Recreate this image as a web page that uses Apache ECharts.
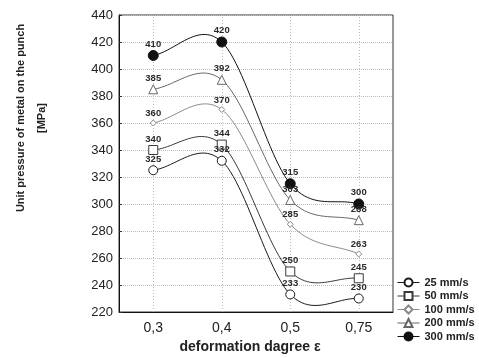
<!DOCTYPE html>
<html>
<head>
<meta charset="utf-8">
<script src="https://cdn.jsdelivr.net/npm/echarts@6/dist/echarts.min.js"></script>
<style>
  html, body { margin: 0; padding: 0; background: #fff; }
  #chart { width: 479px; height: 358px; }
</style>
</head>
<body>
<div id="chart"></div>
<script>
// deformation degree categories
var categories = ['0,3', '0,4', '0,5', '0,75']
var yTicks = [220, 440, 20]   // min, max, step

var names = ['25 mm/s', '50 mm/s', '100 mm/s', '200 mm/s', '300 mm/s']
var v25 = [325, 332, 233, 230]
var v50 = [340, 344, 250, 245]
var v100 = [360, 370, 285, 263]
var v200 = [385, 392, 303, 288]
var v300 = [410, 420, 315, 300]
var allValues = [v25, v50, v100, v200, v300]

var lineColors = ['#1a1a1a', '#3a3a3a', '#8a8a8a', '#666666', '#111111']
var symbols = ['circle', 'rect', 'diamond', 'triangle', 'circle']
var symbolSizes = [9, 9, 6, 9, 10]
var fills = ['#fff', '#fff', '#fff', '#fff', '#111']

var font = '"Liberation Sans", Arial, sans-serif'

// cardinal (catmull-rom) spline through the points, like the original plot
var tangent = (vals, k) => {
    var n = vals.length
    if (k === 0) return vals[1] - vals[0]
    if (k === n - 1) return vals[n - 1] - vals[n - 2]
    return (vals[k + 1] - vals[k - 1]) / 2
}

var makeCurve = (vals, color) => ({
    type: 'custom',
    silent: true,
    z: 2,
    data: vals.map((v, i) => [i, v]),
    encode: { x: 0, y: 1 },
    renderItem: (params, api) => {
        var i = params.dataIndex
        if (i >= vals.length - 1) return
        var p0 = vals[i], p1 = vals[i + 1]
        var m0 = tangent(vals, i), m1 = tangent(vals, i + 1)
        var pts = []
        for (var s = 0; s <= 24; s++) {
            var t = s / 24
            var t2 = t * t, t3 = t2 * t
            var y = (2 * t3 - 3 * t2 + 1) * p0 + (t3 - 2 * t2 + t) * m0 +
                    (-2 * t3 + 3 * t2) * p1 + (t3 - t2) * m1
            pts.push(api.coord([i + t, y]))
        }
        return {
            type: 'polyline',
            shape: { points: pts },
            style: { stroke: color, lineWidth: 1, fill: 'none' }
        }
    }
})

var markerSeries = names.map((name, k) => ({
    name: name,
    type: 'line',
    z: 3,
    data: allValues[k].map((v, i) => [i, v]),
    symbol: symbols[k],
    symbolSize: symbolSizes[k],
    showSymbol: true,
    lineStyle: { opacity: 0 },
    itemStyle: { color: fills[k], borderColor: lineColors[k], borderWidth: 1, opacity: 1 },
    label: {
        show: true,
        position: 'top',
        distance: 1,
        formatter: (p) => p.value[1],
        fontFamily: font,
        fontWeight: 'bold',
        fontSize: 9.5,
        color: '#2a2a2a'
    },
    emphasis: { disabled: true }
}))

var curveSeries = names.map((name, k) => makeCurve(allValues[k], lineColors[k]))

// vertical dotted grid lines at each category
var gridSeries = {
    type: 'custom',
    silent: true,
    z: 1,
    data: categories.map((c, i) => [i, yTicks[0]]),
    encode: { x: 0, y: 1 },
    renderItem: (params, api) => {
        var a = api.coord([api.value(0), yTicks[0]])
        var b = api.coord([api.value(0), yTicks[1]])
        var x = Math.round(a[0]) + 0.5
        return {
            type: 'line',
            shape: { x1: x, y1: a[1], x2: x, y2: b[1] },
            style: { stroke: '#bdbdbd', lineWidth: 1, lineDash: [1, 2] }
        }
    }
}

var chart = echarts.init(document.getElementById('chart'))
chart.setOption({
    animation: false,
    backgroundColor: '#fff',
    grid: {
        left: 119, right: 86, top: 15, bottom: 46,
        show: true, borderColor: '#333', borderWidth: 1
    },
    xAxis: {
        type: 'value',
        min: -0.5,
        max: 3.5,
        interval: 0.5,
        axisLine: { show: true, onZero: false, lineStyle: { color: '#111' } },
        axisTick: { show: false },
        splitLine: { show: false },
        axisLabel: {
            margin: 9,
            fontFamily: font,
            fontSize: 14,
            color: '#222',
            formatter: (v) => (Number.isInteger(v) && v >= 0 && v < categories.length) ? categories[v] : ''
        }
    },
    yAxis: {
        type: 'value',
        min: yTicks[0],
        max: yTicks[1],
        interval: yTicks[2],
        axisLine: { show: true, onZero: false, lineStyle: { color: '#111' } },
        axisTick: { show: true, inside: true, length: 3, lineStyle: { color: '#333' } },
        splitLine: { show: true, lineStyle: { color: '#bdbdbd', type: 'dotted' } },
        axisLabel: { margin: 6, fontFamily: font, fontSize: 13, color: '#222' }
    },
    legend: {
        orient: 'vertical',
        left: 392,
        top: 272,
        itemGap: 2.5,
        itemWidth: 22,
        itemHeight: 10,
        textStyle: { fontFamily: font, fontWeight: 'bold', fontSize: 11, color: '#222' },
        data: names.map((n, k) => ({ name: n, lineStyle: { opacity: 1, width: 1, color: lineColors[k] } }))
    },
    graphic: [
        {
            type: 'text',
            x: 31, y: 118,
            rotation: Math.PI / 2,
            style: {
                text: 'Unit pressure of metal on the punch\n[MPa]',
                font: 'bold 11px ' + font,
                fill: '#222',
                align: 'center',
                verticalAlign: 'middle',
                lineHeight: 21
            }
        },
        {
            type: 'text',
            x: 250, y: 347,
            style: {
                text: 'deformation dagree ε',
                font: 'bold 14px ' + font,
                fill: '#222',
                align: 'center',
                verticalAlign: 'middle'
            }
        }
    ],
    series: [gridSeries].concat(markerSeries, curveSeries)
})
</script>
</body>
</html>
